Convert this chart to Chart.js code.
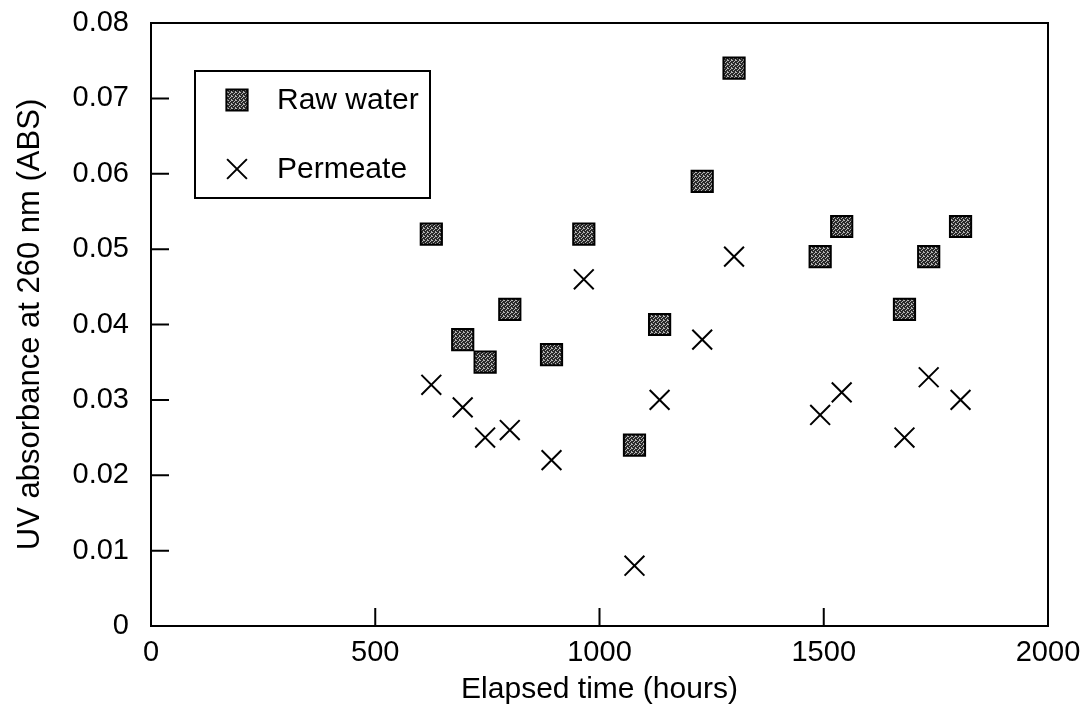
<!DOCTYPE html>
<html lang="en">
<head>
<meta charset="utf-8">
<title>UV absorbance</title>
<script src="https://cdn.jsdelivr.net/npm/chart.js"></script>
<style>
  body { margin: 0; background: #fff; }
  canvas { display: block; }
</style>
</head>
<body>
<canvas id="uvChart" width="1085" height="725"></canvas>
<script>
// elapsed time (h) and UV absorbance at 260 nm, same sampling times for both
const hours    = [625, 695, 745, 800, 893, 965, 1078, 1134, 1229, 1300, 1492, 1540, 1680, 1734, 1805];
const rawWater = [0.052, 0.038, 0.035, 0.042, 0.036, 0.052, 0.024, 0.040, 0.059, 0.074, 0.049, 0.053, 0.042, 0.049, 0.053];
const permeate = [0.032, 0.029, 0.025, 0.026, 0.022, 0.046, 0.008, 0.030, 0.038, 0.049, 0.028, 0.031, 0.025, 0.033, 0.030];
const xTicks = [0, 500, 1000, 1500, 2000];
const yTicks = [0, 0.01, 0.02, 0.03, 0.04, 0.05, 0.06, 0.07, 0.08];
const seriesNames = ['Raw water', 'Permeate'];

const FONT = 'Liberation Sans, Arial, sans-serif';

// speckled grey fill for the squares
function speckle() {
  const c = document.createElement('canvas');
  c.width = 4; c.height = 4;
  const g = c.getContext('2d');
  g.fillStyle = '#2a2a2a';
  g.fillRect(0, 0, 4, 4);
  g.fillStyle = '#b4b4b4';
  [[0,0],[2,1],[1,2],[3,3],[3,0]].forEach(p => g.fillRect(p[0], p[1], 1, 1));
  return g.createPattern(c, 'repeat');
}
const squareFill = speckle();

const toPoints = ys => hours.map((h, i) => ({x: h, y: ys[i]}));

// keep the plot box fixed: no extra room for label overhang
function noOverhang(s) {
  s.paddingTop = 0; s.paddingBottom = 0;
  s.paddingLeft = 0; s.paddingRight = 0;
}

// frame, inward tick marks and the boxed legend
const decor = {
  id: 'decor',
  afterDraw(chart) {
    const {ctx, chartArea: a, scales} = chart;
    ctx.save();
    ctx.strokeStyle = '#000';
    ctx.lineWidth = 2;
    ctx.strokeRect(a.left, a.top, a.right - a.left, a.bottom - a.top);
    ctx.beginPath();
    scales.x.ticks.forEach(t => {
      const px = scales.x.getPixelForValue(t.value);
      ctx.moveTo(px, a.bottom); ctx.lineTo(px, a.bottom - 18);
    });
    scales.y.ticks.forEach(t => {
      const py = scales.y.getPixelForValue(t.value);
      ctx.moveTo(a.left, py); ctx.lineTo(a.left + 18, py);
    });
    ctx.stroke();

    // legend
    ctx.fillStyle = '#fff';
    ctx.fillRect(195, 71, 235, 127);
    ctx.strokeRect(195, 71, 235, 127);
    ctx.font = '30px ' + FONT;
    ctx.textBaseline = 'middle';
    ctx.textAlign = 'left';
    chart.data.datasets.forEach((ds, i) => {
      const y = 100 + i * 69;
      ctx.fillStyle = ds.pointBackgroundColor;
      ctx.strokeStyle = ds.pointBorderColor;
      ctx.lineWidth = ds.pointBorderWidth;
      Chart.helpers.drawPoint(ctx, {pointStyle: ds.pointStyle, radius: ds.pointRadius, borderWidth: ds.pointBorderWidth}, 237, y);
      ctx.fillStyle = '#000';
      ctx.fillText(ds.label, 277, y + 1);
    });
    ctx.restore();
  }
};

new Chart(document.getElementById('uvChart'), {
  type: 'scatter',
  data: {
    datasets: [{
      label: seriesNames[0],
      data: toPoints(rawWater),
      pointStyle: 'rect',
      pointRadius: 15,
      pointBackgroundColor: squareFill,
      pointBorderColor: '#000',
      pointBorderWidth: 2
    }, {
      label: seriesNames[1],
      data: toPoints(permeate),
      pointStyle: 'crossRot',
      pointRadius: 14,
      pointBackgroundColor: '#000',
      pointBorderColor: '#000',
      pointBorderWidth: 2
    }]
  },
  options: {
    responsive: false,
    animation: false,
    devicePixelRatio: 1,
    layout: { padding: { top: 23, right: 37, left: 0, bottom: 0 } },
    plugins: { legend: { display: false }, tooltip: { enabled: false } },
    scales: {
      x: {
        type: 'linear',
        min: 0, max: 2000,
        afterBuildTicks: s => { s.ticks = xTicks.map(v => ({value: v})); },
        afterFit: s => { s.height = 99; noOverhang(s); },
        grid: { display: false },
        border: { display: false },
        ticks: {
          color: '#000', padding: 2, font: { family: FONT, size: 29 }, maxRotation: 0,
          callback: v => String(v)
        },
        title: {
          display: true, text: 'Elapsed time (hours)', color: '#000',
          font: { family: FONT, size: 30 }, padding: { top: 0, bottom: 17 }
        }
      },
      y: {
        type: 'linear',
        min: 0, max: 0.08,
        afterBuildTicks: s => { s.ticks = yTicks.map(v => ({value: v})); },
        afterFit: s => { s.width = 151; noOverhang(s); },
        grid: { display: false },
        border: { display: false },
        ticks: {
          color: '#000', padding: 14, font: { family: FONT, size: 29 },
          callback: v => v === 0 ? '0' : v.toFixed(2)
        },
        title: {
          display: true, text: 'UV absorbance at 260 nm (ABS)', color: '#000',
          font: { family: FONT, size: 31 }, padding: { top: 12, bottom: 0 }
        }
      }
    }
  },
  plugins: [decor]
});
</script>
</body>
</html>
